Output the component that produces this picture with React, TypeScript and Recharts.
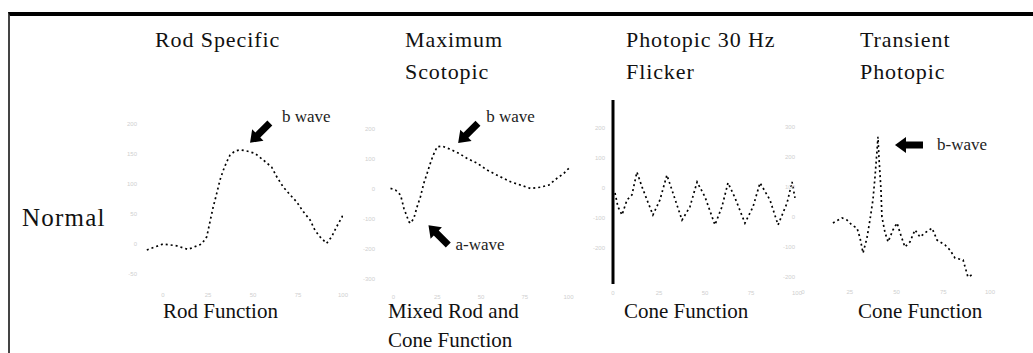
import { LineChart, Line, XAxis, YAxis, ReferenceDot } from "recharts";

// ERG traces, time (ms) vs amplitude (µV)
const rodTime = [-9, 0, 7.6, 13.9, 21.5, 24.3, 26.1, 27.9, 29.4, 31.7, 33.5, 35.4, 37.2, 40, 42.8, 46.5, 51.1, 55.7, 60.4, 63.2, 66.8, 70.6, 74.3, 77.9, 81.7, 84.4, 87.2, 90.9, 93.7, 96.5, 100];
const rodAmp = [-10, 0, -3, -9, 0, 12, 37, 62, 79, 107, 123, 137, 148, 155, 157, 155, 151, 140, 128, 112, 95, 82, 70, 54, 40, 23, 12, 1, 12, 29, 48];

const maxTime = [-1.7, 1.1, 4, 5, 5.9, 7.4, 8.8, 9.7, 11.6, 13.5, 15.4, 17.3, 19.2, 20.7, 22.7, 25, 27.8, 32.6, 37.3, 42.1, 47.8, 53.5, 60.2, 66.9, 72.6, 78.3, 84, 88.7, 93.5, 97.3, 101];
const maxAmp = [2, -3, -20, -42, -64, -87, -109, -114, -98, -59, -26, 19, 52, 80, 113, 141, 143, 132, 119, 102, 86, 63, 43, 24, 13, 2, 6, 13, 36, 52, 74];

const flickerTime = [1.1, 2.7, 4.9, 7.6, 10.3, 13, 15.8, 18.5, 21.7, 25.5, 29.3, 32.6, 37.5, 41.8, 45.7, 50, 55.4, 59.2, 62.5, 66.3, 71.7, 76.1, 79.9, 85.3, 89.7, 94.6, 97.3, 98.9];
const flickerAmp = [-17, -63, -90, -40, -23, 53, 3, -40, -90, -40, 43, -17, -107, -63, 20, -30, -123, -63, 17, -33, -117, -63, 17, -40, -123, -50, 20, -33];

const coneTime = [16, 20.9, 23.5, 26.2, 28.9, 30.5, 32.1, 34.2, 35.8, 37.4, 38.5, 39.6, 40.1, 40.6, 41.7, 42.2, 43.9, 45.5, 48.1, 50.3, 51.9, 54.5, 57.2, 59.9, 62.6, 65.2, 69, 71.7, 75.9, 78.6, 81.3, 85.6, 88.2, 90.4];
const coneAmp = [-20, -3, -10, -27, -37, -70, -120, -70, -10, 57, 133, 223, 267, 200, 90, 0, -53, -83, -43, -20, -53, -100, -83, -43, -67, -53, -37, -77, -93, -110, -137, -143, -200, -193];

const timeTicks = [0, 25, 50, 75, 100];
const rodTicks = [-50, 0, 50, 100, 150, 200];
const maxTicks = [-300, -200, -100, 0, 100, 200];
const flickerTicks = [-200, -100, 0, 100, 200];
const coneTicks = [-200, -100, 0, 100, 200, 300];

const titles = [["Rod Specific"], ["Maximum", "Scotopic"], ["Photopic 30 Hz", "Flicker"], ["Transient", "Photopic"]];
const footers = [["Rod Function"], ["Mixed Rod and", "Cone Function"], ["Cone Function"], ["Cone Function"]];
const rowLabel = "Normal";

const zip = (t: number[], v: number[]) => t.map((x, i) => ({ t: x, v: v[i] }));

const YW = 22;
const XH = 12;
const PAD_TOP = 10;
const PAD_RIGHT = 50;
const serif = '"Liberation Serif", "Times New Roman", serif';
const faint = { fontSize: 6, fill: "#cfcfcf", fontFamily: "Arial" };

type Note = { t: number; v: number; dx: number; dy: number; angle: number; text: string; tx: number; ty: number };

function Arrow({ cx, cy, note }: { cx: number; cy: number; note: Note }) {
  const x = cx + note.dx;
  const y = cy + note.dy;
  return (
    <g>
      <polygon
        points="0,0 11,-8 11,-3.5 28,-3.5 28,3.5 11,3.5 11,8"
        fill="#000"
        transform={`translate(${x},${y}) rotate(${note.angle})`}
      />
      <text x={cx + note.tx} y={cy + note.ty} fontFamily={serif} fontSize={17} fill="#222">
        {note.text}
      </text>
    </g>
  );
}

type PanelProps = {
  left: number;
  top: number;
  width: number;
  height: number;
  data: { t: number; v: number }[];
  xDomain: [number, number];
  yDomain: [number, number];
  yTicks: number[];
  axis?: boolean;
  notes?: Note[];
};

function Panel({ left, top, width, height, data, xDomain, yDomain, yTicks, axis, notes = [] }: PanelProps) {
  return (
    <div style={{ position: "absolute", left: left - YW, top: top - PAD_TOP }}>
      <LineChart
        width={width + YW + PAD_RIGHT}
        height={height + XH + PAD_TOP}
        data={data}
        margin={{ top: PAD_TOP, right: PAD_RIGHT, bottom: 0, left: 0 }}
      >
        <XAxis
          type="number"
          dataKey="t"
          domain={xDomain}
          ticks={timeTicks}
          allowDataOverflow
          axisLine={false}
          tickLine={false}
          height={XH}
          tick={faint}
          tickMargin={1}
          interval={0}
        />
        <YAxis
          type="number"
          domain={yDomain}
          ticks={yTicks}
          allowDataOverflow
          axisLine={axis ? { stroke: "#000", strokeWidth: 3 } : false}
          tickLine={false}
          width={YW}
          tick={faint}
          tickMargin={2}
          interval={0}
        />
        <Line
          dataKey="v"
          type="linear"
          stroke="#000"
          strokeWidth={1.7}
          strokeDasharray="2 3"
          dot={false}
          isAnimationActive={false}
        />
        {notes.map((n, i) => (
          <ReferenceDot
            key={i}
            x={n.t}
            y={n.v}
            r={0}
            ifOverflow="visible"
            shape={(p: any) => <Arrow cx={p.cx} cy={p.cy} note={n} />}
          />
        ))}
      </LineChart>
    </div>
  );
}

const textCol = [155, 405, 626, 860];
const footCol = [163, 388, 624, 858];

export default function App() {
  return (
    <div style={{ position: "absolute", left: 0, top: 0, width: 1033, height: 353, background: "#fff", overflow: "hidden" }}>
      <div
        style={{
          position: "absolute",
          left: 8,
          top: 12,
          width: 1033,
          height: 360,
          borderTop: "4px solid #000",
          borderLeft: "2px solid #444",
        }}
      />
      {titles.map((lines, i) => (
        <div
          key={i}
          style={{ position: "absolute", left: textCol[i], top: 24, fontFamily: serif, fontSize: 22, letterSpacing: 0.9, lineHeight: "32px", color: "#111", whiteSpace: "nowrap" }}
        >
          {lines.map((l) => (
            <div key={l}>{l}</div>
          ))}
        </div>
      ))}
      {footers.map((lines, i) => (
        <div
          key={i}
          style={{ position: "absolute", left: footCol[i], top: 297, fontFamily: serif, fontSize: 21, lineHeight: "29px", color: "#111", whiteSpace: "nowrap" }}
        >
          {lines.map((l) => (
            <div key={l}>{l}</div>
          ))}
        </div>
      ))}
      <div style={{ position: "absolute", left: 22, top: 202, fontFamily: serif, fontSize: 25, letterSpacing: 1.2, lineHeight: "32px", color: "#111" }}>
        {rowLabel}
      </div>

      <Panel
        left={145}
        top={100}
        width={198}
        height={186}
        data={zip(rodTime, rodAmp)}
        xDomain={[-10, 100]}
        yDomain={[-70, 240]}
        yTicks={rodTicks}
        notes={[{ t: 42.8, v: 157, dx: 10, dy: -7, angle: -45, text: "b wave", tx: 42, ty: -28 }]}
      />
      <Panel
        left={383}
        top={99}
        width={189}
        height={189}
        data={zip(maxTime, maxAmp)}
        xDomain={[-6, 102]}
        yDomain={[-330, 300]}
        yTicks={maxTicks}
        notes={[
          { t: 27.8, v: 143, dx: 16, dy: -3, angle: -45, text: "b wave", tx: 44, ty: -24 },
          { t: 9.7, v: -114, dx: 18, dy: 2, angle: 45, text: "a-wave", tx: 45, ty: 27 },
        ]}
      />
      <Panel
        left={613}
        top={100}
        width={184}
        height={184}
        data={zip(flickerTime, flickerAmp)}
        xDomain={[0, 100]}
        yDomain={[-320, 293]}
        yTicks={flickerTicks}
        axis
      />
      <Panel
        left={803}
        top={100}
        width={187}
        height={183}
        data={zip(coneTime, coneAmp)}
        xDomain={[0, 100]}
        yDomain={[-220, 390]}
        yTicks={coneTicks}
        notes={[{ t: 40.1, v: 267, dx: 17, dy: 8, angle: 0, text: "b-wave", tx: 59, ty: 13 }]}
      />
    </div>
  );
}
